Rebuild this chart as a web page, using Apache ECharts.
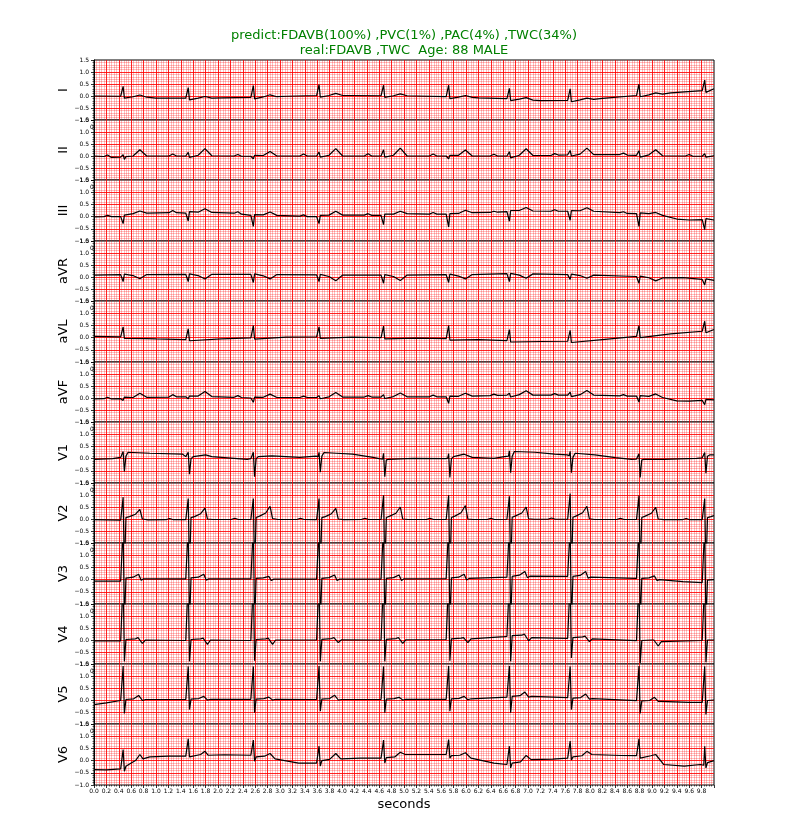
<!DOCTYPE html>
<html><head><meta charset="utf-8">
<script src="https://cdn.jsdelivr.net/npm/echarts@6/dist/echarts.min.js"></script>
<style>html,body{margin:0;padding:0;background:#fff}#c{width:797px;height:832px}</style>
</head><body><div id="c"></div>
<script>
// ---------- labels / ticks ----------
const leadNames = ['I','II','III','aVR','aVL','aVF','V1','V2','V3','V4','V5','V6'];
const titleLine1 = 'predict:FDAVB(100%) ,PVC(1%) ,PAC(4%) ,TWC(34%)';
const titleLine2 = 'real:FDAVB ,TWC  Age: 88 MALE';
const xLabel = 'seconds';
const X_MIN = 0, X_MAX = 10, X_STEP = 0.2;     // seconds
const Y_MIN = -1, Y_MAX = 1.5, Y_STEP = 0.5;   // mV

// ---------- traces [time s, mV] ----------
const leadI = [[0,0],[0.43,-0.01],[0.455,-0.03],[0.47,0.40],[0.49,-0.09],[0.515,-0.04],[0.63,-0.03],[0.74,0.04],[0.85,-0.05],[1.0,-0.09],
[1.48,-0.09],[1.505,-0.11],[1.52,0.35],[1.54,-0.16],[1.565,-0.11],[1.68,-0.09],[1.79,-0.02],[1.90,-0.09],[2.05,-0.08],
[2.53,-0.06],[2.555,-0.08],[2.57,0.43],[2.59,-0.12],[2.615,-0.07],[2.73,-0.04],[2.84,0.05],[2.95,-0.03],[3.1,-0.01],
[3.59,0.02],[3.615,0.0],[3.63,0.47],[3.65,-0.05],[3.675,0.0],[3.79,0.02],[3.90,0.11],[4.01,0.02],[4.15,0.02],
[4.63,0.01],[4.655,-0.01],[4.67,0.45],[4.69,-0.06],[4.715,-0.01],[4.83,0.01],[4.94,0.09],[5.05,0.01],[5.2,0.0],
[5.68,-0.03],[5.705,-0.05],[5.72,0.45],[5.74,-0.11],[5.765,-0.06],[5.88,-0.05],[5.99,0.02],[6.10,-0.06],[6.2,-0.08],
[6.66,-0.11],[6.685,-0.13],[6.70,0.32],[6.72,-0.19],[6.745,-0.14],[6.86,-0.13],[6.97,-0.07],[7.08,-0.17],[7.2,-0.19],
[7.64,-0.18],[7.665,-0.2],[7.68,0.30],[7.70,-0.24],[7.725,-0.19],[7.84,-0.16],[7.95,-0.09],[8.06,-0.14],[8.2,-0.10],
[8.75,0.02],[8.775,0.0],[8.79,0.49],[8.81,-0.03],[8.835,0.02],[8.95,0.05],[9.06,0.13],[9.17,0.08],[9.3,0.13],
[9.81,0.22],[9.835,0.2],[9.85,0.66],[9.87,0.15],[9.895,0.2],[10,0.3]];

const leadII = [[0,0],[0.16,-0.02],[0.22,0.04],[0.28,-0.06],[0.43,-0.05],[0.455,-0.08],[0.47,0.06],[0.49,-0.14],[0.515,-0.03],[0.63,0.0],[0.74,0.26],[0.85,0.0],
[1.21,0.0],[1.27,0.08],[1.33,0.0],[1.48,0.0],[1.505,-0.03],[1.52,0.15],[1.54,-0.06],[1.565,0.0],[1.68,0.03],[1.79,0.31],[1.90,0.01],
[2.26,0.0],[2.32,0.06],[2.38,-0.01],[2.53,-0.01],[2.555,0.04],[2.57,-0.12],[2.59,0.03],[2.615,-0.02],[2.73,0.02],[2.84,0.19],[2.95,0.0],
[3.32,0.0],[3.38,0.08],[3.44,0.0],[3.59,0.0],[3.615,-0.03],[3.63,0.16],[3.65,-0.05],[3.675,0.0],[3.79,0.03],[3.90,0.31],[4.01,0.0],
[4.36,0.0],[4.42,0.09],[4.48,0.0],[4.63,0.0],[4.655,-0.03],[4.67,0.26],[4.69,-0.05],[4.715,0.0],[4.83,0.03],[4.94,0.33],[5.05,0.0],
[5.41,0.0],[5.47,0.08],[5.53,0.0],[5.68,0.0],[5.705,0.04],[5.72,-0.12],[5.74,0.03],[5.765,0.0],[5.88,0.03],[5.99,0.25],[6.10,0.0],
[6.39,0.0],[6.45,0.07],[6.51,0.0],[6.66,0.0],[6.685,-0.03],[6.70,0.18],[6.72,-0.08],[6.745,0.0],[6.86,0.03],[6.97,0.30],[7.08,0.02],
[7.37,0.02],[7.43,0.10],[7.49,0.04],[7.64,0.05],[7.665,0.02],[7.68,0.23],[7.70,0.0],[7.725,0.06],[7.84,0.08],[7.95,0.33],[8.06,0.06],
[8.48,0.06],[8.54,0.12],[8.60,0.04],[8.75,0.03],[8.775,0.0],[8.79,0.22],[8.81,-0.05],[8.835,0.02],[8.95,0.05],[9.06,0.26],[9.17,0.01],
[9.54,0.0],[9.60,0.06],[9.66,-0.01],[9.81,-0.01],[9.835,-0.04],[9.85,0.1],[9.87,-0.05],[9.895,0.0],[10,0.01]];

const leadIII = [[0,-0.01],[0.16,0.0],[0.22,0.05],[0.28,0.0],[0.43,0.0],[0.455,0.04],[0.47,-0.29],[0.49,0.06],[0.515,0.1],[0.63,0.12],[0.74,0.23],[0.85,0.14],
[1.21,0.16],[1.27,0.25],[1.33,0.16],[1.48,0.14],[1.505,0.17],[1.52,-0.18],[1.54,0.2],[1.565,0.16],[1.68,0.18],[1.79,0.32],[1.90,0.17],
[2.26,0.14],[2.32,0.2],[2.38,0.1],[2.53,0.05],[2.555,0.08],[2.57,-0.40],[2.59,0.08],[2.615,0.05],[2.73,0.07],[2.84,0.19],[2.95,0.05],
[3.32,0.02],[3.38,0.07],[3.44,0.0],[3.59,0.0],[3.615,0.03],[3.63,-0.29],[3.65,0.05],[3.675,0.03],[3.79,0.06],[3.90,0.22],[4.01,0.06],
[4.36,0.06],[4.42,0.12],[4.48,0.05],[4.63,0.05],[4.655,0.08],[4.67,-0.33],[4.69,0.1],[4.715,0.08],[4.83,0.1],[4.94,0.22],[5.05,0.12],
[5.41,0.1],[5.47,0.17],[5.53,0.1],[5.68,0.1],[5.705,0.13],[5.72,-0.42],[5.74,0.12],[5.765,0.1],[5.88,0.13],[5.99,0.26],[6.10,0.16],
[6.39,0.17],[6.45,0.22],[6.51,0.18],[6.66,0.2],[6.685,0.23],[6.70,-0.19],[6.72,0.25],[6.745,0.22],[6.86,0.25],[6.97,0.37],[7.08,0.23],
[7.37,0.22],[7.43,0.28],[7.49,0.22],[7.64,0.22],[7.665,0.25],[7.68,-0.15],[7.70,0.25],[7.725,0.22],[7.84,0.24],[7.95,0.36],[8.06,0.22],
[8.48,0.16],[8.54,0.2],[8.60,0.13],[8.75,0.12],[8.775,0.15],[8.79,-0.40],[8.81,0.15],[8.835,0.12],[8.95,0.12],[9.06,0.17],[9.17,0.05],
[9.4,-0.1],[9.6,-0.14],[9.81,-0.12],[9.835,-0.09],[9.85,-0.53],[9.87,-0.08],[9.895,-0.12],[10,-0.14]];

const leadAVR = [[0,0.08],[0.43,0.1],[0.455,0.16],[0.47,-0.19],[0.49,0.12],[0.515,0.09],[0.63,0.06],[0.74,-0.07],[0.85,0.1],
[1.48,0.11],[1.505,0.17],[1.52,-0.19],[1.54,0.13],[1.565,0.1],[1.68,0.06],[1.79,-0.08],[1.90,0.11],
[2.53,0.11],[2.555,0.17],[2.57,-0.23],[2.59,0.13],[2.615,0.1],[2.73,0.05],[2.84,-0.08],[2.95,0.1],
[3.59,0.09],[3.615,0.15],[3.63,-0.19],[3.65,0.11],[3.675,0.08],[3.79,0.02],[3.90,-0.16],[4.01,0.08],
[4.63,0.08],[4.655,0.14],[4.67,-0.26],[4.69,0.1],[4.715,0.07],[4.83,0.02],[4.94,-0.15],[5.05,0.08],
[5.68,0.1],[5.705,0.16],[5.72,-0.23],[5.74,0.12],[5.765,0.09],[5.88,0.04],[5.99,-0.08],[6.10,0.1],
[6.66,0.14],[6.685,0.19],[6.70,-0.19],[6.72,0.15],[6.745,0.13],[6.86,0.08],[6.97,-0.05],[7.08,0.13],
[7.64,0.1],[7.665,0.15],[7.68,-0.1],[7.70,0.12],[7.725,0.1],[7.84,0.06],[7.95,-0.05],[8.06,0.08],
[8.75,0.02],[8.775,0.08],[8.79,-0.26],[8.81,0.04],[8.835,0.01],[8.95,-0.03],[9.06,-0.16],[9.17,-0.04],[9.5,-0.03],
[9.81,-0.1],[9.835,-0.05],[9.85,-0.33],[9.87,-0.08],[9.895,-0.11],[10,-0.14]];

const leadAVL = [[0,0.05],[0.43,0.03],[0.455,0.01],[0.47,0.44],[0.49,-0.03],[0.515,0.0],[0.85,-0.04],[1.0,-0.05],
[1.48,-0.08],[1.505,-0.1],[1.52,0.36],[1.54,-0.13],[1.565,-0.08],[2.05,-0.05],
[2.53,-0.01],[2.555,-0.03],[2.57,0.49],[2.59,-0.06],[2.615,-0.01],[3.1,0.02],
[3.59,0.03],[3.615,0.01],[3.63,0.44],[3.65,-0.03],[3.675,0.02],[4.15,0.02],
[4.63,0.0],[4.655,-0.02],[4.67,0.47],[4.69,-0.05],[4.715,0.0],[5.2,-0.02],
[5.68,-0.04],[5.705,-0.06],[5.72,0.49],[5.74,-0.1],[5.765,-0.05],[6.2,-0.08],
[6.66,-0.12],[6.685,-0.14],[6.70,0.33],[6.72,-0.18],[6.745,-0.13],[7.2,-0.16],
[7.64,-0.15],[7.665,-0.17],[7.68,0.30],[7.70,-0.2],[7.725,-0.15],[8.2,-0.08],
[8.75,0.05],[8.775,0.03],[8.79,0.49],[8.81,0.0],[8.835,0.05],[9.3,0.15],
[9.81,0.26],[9.835,0.24],[9.85,0.67],[9.87,0.2],[9.895,0.25],[10,0.33]];

const leadAVF = [[0,-0.04],[0.16,-0.03],[0.22,0.03],[0.28,-0.04],[0.43,-0.03],[0.455,0.03],[0.47,-0.1],[0.49,0.04],[0.515,-0.01],[0.63,0.02],[0.74,0.2],[0.85,0.03],
[1.21,0.04],[1.27,0.14],[1.33,0.05],[1.48,0.05],[1.505,0.1],[1.52,-0.03],[1.54,0.08],[1.565,0.05],[1.68,0.08],[1.79,0.27],[1.90,0.06],
[2.26,0.03],[2.32,0.1],[2.38,0.02],[2.53,0.0],[2.555,0.04],[2.57,-0.18],[2.59,0.04],[2.615,0.0],[2.73,0.03],[2.84,0.16],[2.95,0.02],
[3.32,0.02],[3.38,0.08],[3.44,0.02],[3.59,0.02],[3.615,-0.02],[3.63,0.1],[3.65,-0.03],[3.675,0.02],[3.79,0.05],[3.90,0.23],[4.01,0.04],
[4.36,0.04],[4.42,0.1],[4.48,0.04],[4.63,0.04],[4.655,0.0],[4.67,0.14],[4.69,-0.02],[4.715,0.04],[4.83,0.06],[4.94,0.21],[5.05,0.05],
[5.41,0.05],[5.47,0.12],[5.53,0.05],[5.68,0.05],[5.705,0.08],[5.72,-0.22],[5.74,0.08],[5.765,0.05],[5.88,0.07],[5.99,0.2],[6.10,0.08],
[6.39,0.1],[6.45,0.16],[6.51,0.11],[6.66,0.12],[6.685,0.08],[6.70,0.2],[6.72,0.04],[6.745,0.12],[6.86,0.14],[6.97,0.3],[7.08,0.12],
[7.37,0.12],[7.43,0.18],[7.49,0.12],[7.64,0.12],[7.665,0.09],[7.68,0.24],[7.70,0.06],[7.725,0.12],[7.84,0.14],[7.95,0.31],[8.06,0.12],
[8.48,0.09],[8.54,0.14],[8.60,0.08],[8.75,0.08],[8.775,0.11],[8.79,-0.17],[8.81,0.1],[8.835,0.07],[8.95,0.07],[9.06,0.17],[9.17,0.02],
[9.4,-0.12],[9.6,-0.13],[9.81,-0.1],[9.835,-0.06],[9.85,-0.28],[9.87,-0.06],[9.895,-0.1],[10,-0.08]];

const leadV1 = [[0,-0.03],[0.3,0.0],[0.43,0.05],[0.455,0.03],[0.47,0.29],[0.49,-0.53],[0.515,0.1],[0.55,0.26],[0.9,0.22],[1.43,0.18],[1.48,0.08],
[1.505,0.06],[1.52,0.26],[1.54,-0.64],[1.565,0.0],[1.6,0.08],[1.8,0.15],[1.9,0.08],[2.47,-0.03],[2.53,0.0],
[2.555,0.0],[2.57,0.26],[2.59,-0.74],[2.615,0.0],[2.65,0.08],[2.87,0.11],[3.32,0.05],[3.58,0.1],
[3.615,0.08],[3.63,0.26],[3.65,-0.56],[3.675,0.1],[3.71,0.25],[3.91,0.22],[4.17,0.18],[4.5,0.05],[4.6,0.0],[4.63,0.0],
[4.655,-0.02],[4.67,0.22],[4.69,-0.74],[4.715,-0.05],[4.75,-0.03],[5.15,0.01],[5.67,0.0],
[5.705,0.02],[5.72,0.2],[5.74,-0.77],[5.765,0.0],[5.8,0.08],[5.97,0.18],[6.1,0.05],[6.45,0.01],[6.62,0.08],
[6.685,0.1],[6.70,0.32],[6.72,-0.58],[6.745,0.1],[6.78,0.29],[7.11,0.26],[7.43,0.18],[7.63,0.15],
[7.665,0.12],[7.68,0.3],[7.70,-0.58],[7.725,0.05],[7.76,0.22],[8.08,0.15],[8.41,0.04],[8.67,-0.03],[8.75,-0.02],
[8.775,-0.04],[8.79,0.2],[8.81,-0.77],[8.835,-0.05],[8.87,-0.03],[9.19,-0.03],[9.72,0.01],[9.81,0.03],
[9.835,0.0],[9.85,0.25],[9.87,-0.6],[9.895,0.1],[9.93,0.15],[10,0.15]];

const leadV2 = [[0,-0.03],[0.43,-0.05],[0.455,-0.09],[0.47,0.91],[0.49,-2.2],[0.515,0.06],[0.57,0.1],[0.67,0.2],[0.74,0.4],[0.78,0.0],[0.87,-0.04],
[1.16,-0.03],[1.22,0.02],[1.28,-0.03],[1.48,-0.03],[1.505,-0.07],[1.52,0.85],[1.54,-2.2],[1.565,0.06],[1.62,0.1],[1.72,0.22],[1.79,0.45],[1.83,0.0],[1.92,-0.02],
[2.21,-0.02],[2.27,0.03],[2.33,-0.02],[2.53,-0.02],[2.555,-0.06],[2.57,0.85],[2.59,-2.2],[2.615,0.06],[2.67,0.12],[2.77,0.25],[2.84,0.53],[2.88,0.02],[2.97,-0.02],
[3.27,-0.02],[3.33,0.03],[3.39,-0.02],[3.59,-0.03],[3.615,-0.07],[3.63,0.85],[3.65,-2.2],[3.675,0.06],[3.73,0.1],[3.83,0.22],[3.90,0.44],[3.94,0.0],[4.03,-0.03],
[4.31,-0.02],[4.37,0.03],[4.43,-0.02],[4.63,-0.02],[4.655,-0.06],[4.67,0.99],[4.69,-2.2],[4.715,0.06],[4.77,0.12],[4.87,0.24],[4.94,0.5],[4.98,0.0],[5.07,-0.02],
[5.36,-0.02],[5.42,0.03],[5.48,-0.02],[5.68,-0.02],[5.705,-0.06],[5.72,0.99],[5.74,-2.2],[5.765,0.06],[5.82,0.12],[5.92,0.26],[5.99,0.56],[6.03,0.0],[6.12,-0.02],
[6.34,-0.02],[6.40,0.03],[6.46,-0.02],[6.66,-0.01],[6.685,-0.05],[6.70,0.95],[6.72,-2.2],[6.745,0.07],[6.80,0.13],[6.90,0.25],[6.97,0.5],[7.01,0.01],[7.10,-0.01],
[7.32,-0.01],[7.38,0.04],[7.44,-0.01],[7.64,-0.01],[7.665,-0.05],[7.68,1.06],[7.70,-2.2],[7.725,0.07],[7.78,0.13],[7.88,0.26],[7.95,0.53],[7.99,0.01],[8.08,-0.02],
[8.43,-0.02],[8.49,0.03],[8.55,-0.02],[8.75,-0.02],[8.775,-0.06],[8.79,0.98],[8.81,-2.2],[8.835,0.06],[8.89,0.12],[8.99,0.24],[9.06,0.48],[9.10,0.0],[9.19,-0.03],
[9.49,-0.03],[9.55,0.02],[9.61,-0.03],[9.81,-0.03],[9.835,-0.07],[9.85,0.85],[9.87,-2.2],[9.895,0.06],[9.95,0.1],[10,0.14]];

const leadV3 = [[0,-0.06],[0.43,-0.06],[0.455,-0.09],[0.47,2.2],[0.49,-1.8],[0.515,0.06],[0.63,0.1],[0.72,0.22],[0.76,-0.03],[0.8,0.03],
[1.48,0.03],[1.505,0.0],[1.52,2.2],[1.54,-1.8],[1.565,0.07],[1.68,0.1],[1.77,0.22],[1.81,-0.02],[1.85,0.03],
[2.53,0.03],[2.555,0.0],[2.57,2.2],[2.59,-1.8],[2.615,0.05],[2.73,0.07],[2.82,0.13],[2.86,-0.04],[2.9,0.02],
[3.59,0.02],[3.615,-0.01],[3.63,2.2],[3.65,-1.8],[3.675,0.05],[3.79,0.08],[3.88,0.19],[3.92,-0.04],[3.96,0.02],
[4.63,0.02],[4.655,-0.01],[4.67,2.2],[4.69,-1.8],[4.715,0.05],[4.83,0.08],[4.92,0.19],[4.96,-0.04],[5.0,0.03],
[5.68,0.04],[5.705,0.01],[5.72,2.2],[5.74,-1.8],[5.765,0.07],[5.88,0.1],[5.97,0.22],[6.01,-0.02],[6.05,0.05],
[6.66,0.1],[6.685,0.07],[6.70,2.2],[6.72,-1.8],[6.745,0.13],[6.86,0.18],[6.95,0.33],[6.99,0.08],[7.03,0.14],
[7.64,0.13],[7.665,0.1],[7.68,2.2],[7.70,-1.8],[7.725,0.13],[7.84,0.17],[7.93,0.33],[7.97,0.06],[8.01,0.1],
[8.75,0.05],[8.775,0.02],[8.79,2.2],[8.81,-1.8],[8.835,0.05],[8.95,0.07],[9.04,0.15],[9.08,-0.04],[9.12,0.0],[9.5,-0.08],
[9.81,-0.12],[9.835,-0.15],[9.85,2.2],[9.87,-1.8],[9.895,-0.02],[10,0.0]];

const leadV4 = [[0,-0.04],[0.43,-0.04],[0.455,-0.07],[0.47,2.5],[0.49,-0.89],[0.515,0.02],[0.67,0.05],[0.71,0.1],[0.78,-0.14],[0.83,0.0],
[1.48,-0.02],[1.505,-0.05],[1.52,2.5],[1.54,-0.89],[1.565,0.02],[1.72,0.05],[1.76,0.08],[1.83,-0.18],[1.88,0.0],
[2.53,-0.02],[2.555,-0.05],[2.57,2.5],[2.59,-0.86],[2.615,0.02],[2.77,0.05],[2.81,0.08],[2.88,-0.18],[2.93,0.0],
[3.59,0.0],[3.615,-0.03],[3.63,2.5],[3.65,-0.89],[3.675,0.03],[3.83,0.06],[3.87,0.1],[3.94,-0.11],[3.99,0.01],
[4.63,0.0],[4.655,-0.03],[4.67,2.5],[4.69,-0.89],[4.715,0.03],[4.87,0.06],[4.91,0.1],[4.98,-0.14],[5.03,0.01],
[5.68,0.02],[5.705,-0.01],[5.72,2.5],[5.74,-0.86],[5.765,0.05],[5.92,0.08],[5.96,0.1],[6.03,-0.11],[6.08,0.05],[6.62,0.14],
[6.66,0.15],[6.685,0.12],[6.70,2.5],[6.72,-0.89],[6.745,0.18],[6.90,0.2],[6.94,0.25],[7.01,-0.03],[7.06,0.1],
[7.64,0.07],[7.665,0.04],[7.68,2.5],[7.70,-0.75],[7.725,0.1],[7.88,0.13],[7.92,0.16],[7.99,-0.07],[8.04,0.05],
[8.75,-0.03],[8.775,-0.06],[8.79,2.5],[8.81,-0.96],[8.835,-0.02],[8.99,0.0],[9.03,0.0],[9.10,-0.25],[9.15,-0.07],
[9.81,-0.02],[9.835,-0.05],[9.85,2.5],[9.87,-0.93],[9.895,0.0],[10,0.0]];

const leadV5 = [[0,-0.19],[0.2,-0.12],[0.43,-0.02],[0.455,-0.05],[0.47,1.42],[0.49,-0.56],[0.515,0.02],[0.64,0.05],[0.72,0.19],[0.78,-0.02],[0.83,0.02],
[1.48,0.02],[1.505,-0.01],[1.52,1.4],[1.54,-0.4],[1.565,0.04],[1.69,0.06],[1.77,0.15],[1.83,0.0],[1.88,0.03],
[2.53,0.03],[2.555,0.0],[2.57,1.4],[2.59,-0.53],[2.615,0.04],[2.74,0.06],[2.82,0.12],[2.88,0.0],[2.93,0.03],
[3.59,0.02],[3.615,-0.01],[3.63,1.42],[3.65,-0.47],[3.675,0.04],[3.80,0.06],[3.88,0.2],[3.94,0.0],[3.99,0.02],
[4.63,0.03],[4.655,0.0],[4.67,1.4],[4.69,-0.53],[4.715,0.04],[4.84,0.06],[4.92,0.11],[4.98,0.0],[5.03,0.03],
[5.68,0.03],[5.705,0.0],[5.72,1.42],[5.74,-0.47],[5.765,0.05],[5.89,0.07],[5.97,0.15],[6.03,0.01],[6.08,0.05],
[6.66,0.12],[6.685,0.09],[6.70,1.42],[6.72,-0.53],[6.745,0.15],[6.87,0.18],[6.95,0.33],[7.01,0.12],[7.06,0.15],
[7.64,0.1],[7.665,0.07],[7.68,1.4],[7.70,-0.4],[7.725,0.08],[7.85,0.1],[7.93,0.25],[7.99,0.04],[8.04,0.06],
[8.75,-0.03],[8.775,-0.06],[8.79,1.42],[8.81,-0.56],[8.835,-0.04],[8.96,-0.02],[9.04,0.11],[9.10,-0.06],[9.15,-0.06],[9.6,-0.1],
[9.81,-0.1],[9.835,-0.13],[9.85,1.4],[9.87,-0.6],[9.895,-0.02],[10,0.0]];

const leadV6 = [[0,-0.37],[0.2,-0.38],[0.43,-0.34],[0.455,-0.37],[0.47,0.45],[0.49,-0.44],[0.515,-0.23],[0.6,-0.1],[0.67,0.0],[0.74,0.25],[0.79,0.07],[0.9,0.15],[1.2,0.18],
[1.48,0.18],[1.505,0.15],[1.52,0.89],[1.54,0.15],[1.565,0.22],[1.72,0.25],[1.79,0.38],[1.84,0.22],[2.1,0.24],
[2.53,0.22],[2.555,0.19],[2.57,0.84],[2.59,-0.03],[2.615,0.15],[2.75,0.18],[2.84,0.29],[2.92,0.07],[3.3,-0.1],
[3.59,-0.1],[3.615,-0.13],[3.63,0.59],[3.65,-0.22],[3.675,0.0],[3.8,0.05],[3.90,0.29],[3.98,0.07],[4.3,0.1],
[4.63,0.1],[4.655,0.07],[4.67,0.84],[4.69,-0.1],[4.715,0.12],[4.85,0.15],[4.94,0.34],[5.02,0.25],[5.4,0.25],
[5.68,0.25],[5.705,0.22],[5.72,0.86],[5.74,0.1],[5.765,0.2],[5.9,0.22],[5.99,0.32],[6.08,0.1],[6.45,-0.1],
[6.66,-0.16],[6.685,-0.19],[6.70,0.59],[6.72,-0.3],[6.745,-0.1],[6.88,-0.05],[6.97,0.21],[7.05,0.04],[7.4,0.06],
[7.64,0.1],[7.665,0.07],[7.68,0.8],[7.70,0.03],[7.725,0.15],[7.87,0.2],[7.95,0.38],[8.03,0.25],[8.5,0.21],
[8.75,0.2],[8.775,0.17],[8.79,0.89],[8.81,0.1],[8.835,0.18],[8.98,0.2],[9.06,0.25],[9.19,-0.16],[9.52,-0.23],[9.78,-0.16],
[9.81,-0.16],[9.835,-0.19],[9.85,0.59],[9.87,-0.3],[9.895,-0.08],[10,0.0]];

const leadData = [leadI, leadII, leadIII, leadAVR, leadAVL, leadAVF, leadV1, leadV2, leadV3, leadV4, leadV5, leadV6];

// ---------- layout ----------
const FONT = 'DejaVu Sans';
const LEFT = 94, WIDTH = 620, TOP0 = 59.5, PH = 60.45;
const fmtY = v => (v < 0 ? '\u2212' + Math.abs(v).toFixed(1) : v.toFixed(1));

const grid = [], xAxis = [], yAxis = [], series = [], graphic = [];
leadNames.forEach((nm, i) => {
  const last = i === leadNames.length - 1;
  const top = Math.round(TOP0 + i * PH);
  const bottom = Math.round(TOP0 + (i + 1) * PH);
  grid.push({ left: LEFT, width: WIDTH, top: top, height: bottom - top, show: true,
    borderColor: '#000', borderWidth: 1, backgroundColor: '#fff' });
  xAxis.push({ type: 'value', gridIndex: i, min: X_MIN, max: X_MAX, interval: X_STEP, position: 'bottom',
    axisLine: { show: false, onZero: false },
    axisTick: { show: last, length: 3, lineStyle: { color: '#000', width: 0.8 } },
    minorTick: { show: last, splitNumber: 5, length: 1.5, lineStyle: { color: '#000', width: 0.6 } },
    axisLabel: { show: last, fontSize: 6, fontFamily: FONT, color: '#000', margin: 3,
      showMaxLabel: false, formatter: v => v.toFixed(1) },
    splitLine: { show: true, showMinLine: false, showMaxLine: false, lineStyle: { color: 'rgba(255,0,0,0.85)', width: 1 } },
    minorSplitLine: { show: true, lineStyle: { color: 'rgba(255,0,0,0.25)', width: 1 } },
    name: last ? xLabel : '', nameLocation: 'middle', nameGap: 13, nameMoveOverlap: false,
    nameTextStyle: { fontSize: 13, fontFamily: FONT, color: '#000' }
  });
  yAxis.push({ type: 'value', gridIndex: i, min: Y_MIN, max: Y_MAX, interval: Y_STEP,
    axisLine: { show: true, onZero: false, lineStyle: { color: '#000', width: 1 } },
    axisTick: { show: true, length: 3, lineStyle: { color: '#000', width: 0.8 } },
    minorTick: { show: true, splitNumber: 5, length: 1.5, lineStyle: { color: '#000', width: 0.6 } },
    axisLabel: { fontSize: 6, fontFamily: FONT, color: '#000', margin: 5, formatter: fmtY },
    splitLine: { show: true, showMinLine: false, showMaxLine: false, lineStyle: { color: 'rgba(255,0,0,0.85)', width: 1 } },
    minorSplitLine: { show: true, lineStyle: { color: 'rgba(255,0,0,0.25)', width: 1 } },
    name: nm, nameLocation: 'middle', nameRotate: 90, nameGap: 24, nameMoveOverlap: false,
    nameTextStyle: { fontSize: 13, fontFamily: FONT, color: '#000' }
  });
  series.push({ type: 'line', xAxisIndex: i, yAxisIndex: i, data: leadData[i],
    showSymbol: false, symbol: 'none', clip: true, silent: true, z: 5,
    lineStyle: { color: '#000', width: 1.2 } });
  if (!last) {
    graphic.push({ type: 'text', x: 92, y: bottom + 7, silent: true,
      style: { text: '0', font: '6px ' + FONT, fill: '#000', align: 'center', verticalAlign: 'middle',
        textAlign: 'center', textVerticalAlign: 'middle' } });
  }
});
graphic.push({ type: 'text', x: 404, y: 36, silent: true,
  style: { text: titleLine1, font: '13px ' + FONT, fill: '#008000', align: 'center', verticalAlign: 'middle',
    textAlign: 'center', textVerticalAlign: 'middle' } });
graphic.push({ type: 'text', x: 404, y: 51, silent: true,
  style: { text: titleLine2, font: '13px ' + FONT, fill: '#008000', align: 'center', verticalAlign: 'middle',
    textAlign: 'center', textVerticalAlign: 'middle' } });

const chart = echarts.init(document.getElementById('c'), null, { renderer: 'canvas' });
chart.setOption({
  animation: false,
  backgroundColor: '#fff',
  textStyle: { fontFamily: FONT },
  grid, xAxis, yAxis, series, graphic
});
</script></body></html>
